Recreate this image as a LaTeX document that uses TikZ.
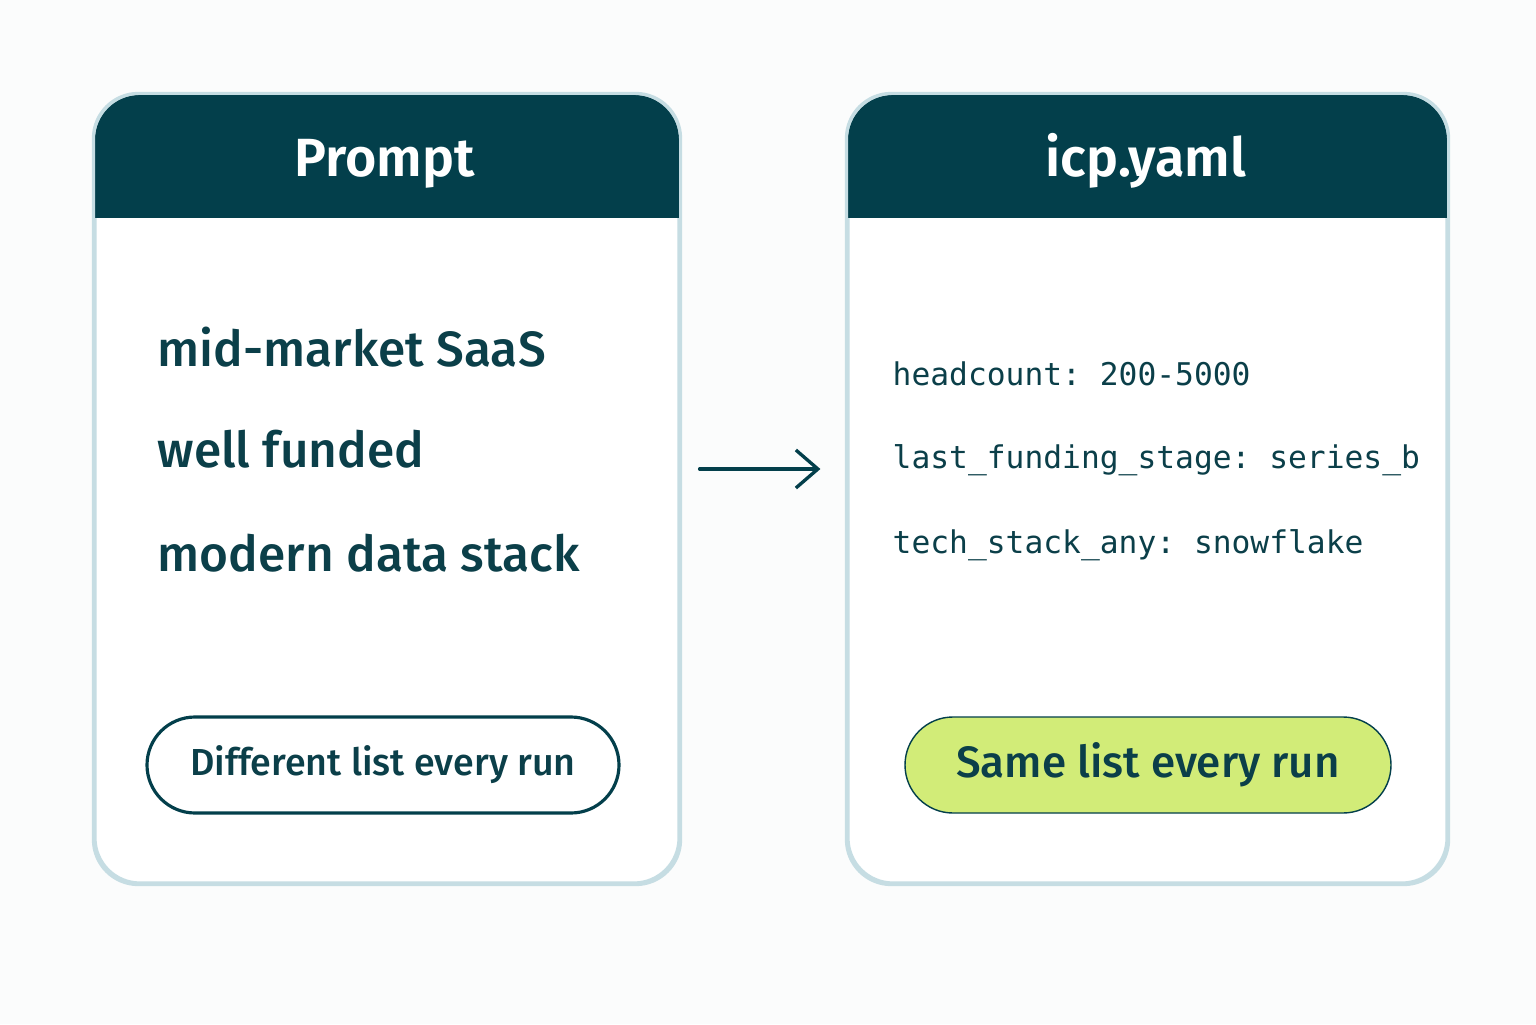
\documentclass[tikz,border=0pt]{standalone}
\usepackage{fontspec}
\setmainfont{Fira Sans}[UprightFont=* Medium, BoldFont=* SemiBold]
\setmonofont{DejaVu Sans Mono}
\usetikzlibrary{arrows.meta}
\definecolor{deepteal}{HTML}{033F4B}
\definecolor{inkteal}{HTML}{0B3F49}
\definecolor{cardline}{HTML}{C6DDE3}
\definecolor{limefill}{HTML}{D2EC78}
\definecolor{pagebg}{HTML}{FBFCFC}

\begin{document}
\begin{tikzpicture}[
  card/.style={draw=cardline, line width=0.9pt, fill=white, rounded corners=0.45cm, minimum height=7.88cm},
  headtext/.style={anchor=base, text=white, font=\fontsize{15.3}{18}\bfseries},
  plain/.style={anchor=base west, text=inkteal, inner sep=0pt, font=\fontsize{14.1}{17}\selectfont},
  yamlline/.style={anchor=base west, text=inkteal, inner sep=0pt, font=\fontsize{8.9}{11}\ttfamily},
  pill/.style={rounded corners=0.48cm, minimum height=0.96cm, text=inkteal},
  flow/.style={-{Straight Barb[length=0.22cm, width=0.38cm]}, line width=0.95pt, draw=deepteal, line cap=round}
]
\fill[pagebg] (0,0) rectangle (15.36,10.24);
\useasboundingbox (0,0) rectangle (15.36,10.24);

\node[card, minimum width=5.84cm] (promptcard) at (3.87,5.35) {};
\node[card, minimum width=5.99cm] (yamlcard) at (11.475,5.35) {};

\fill[deepteal] (0.95,8.06) [rounded corners=0.45cm] -- (0.95,9.29) -- (6.79,9.29) [sharp corners] -- (6.79,8.06) -- cycle;
\fill[deepteal] (8.48,8.06) [rounded corners=0.45cm] -- (8.48,9.29) -- (14.47,9.29) [sharp corners] -- (14.47,8.06) -- cycle;
\draw[cardline, line width=0.9pt, rounded corners=0.45cm] (promptcard.south west) rectangle (promptcard.north east);
\draw[cardline, line width=0.9pt, rounded corners=0.45cm] (yamlcard.south west) rectangle (yamlcard.north east);

\node[headtext] (prompttitle) at (3.85,8.47) {Prompt};
\node[headtext] (yamltitle) at (11.46,8.47) {icp.yaml};

\node[plain] (vague1) at (1.57,6.58) {mid-market SaaS};
\node[plain] (vague2) at (1.57,5.57) {well funded};
\node[plain] (vague3) at (1.57,4.53) {modern data stack};

\node[yamlline] (rule1) at (8.92,6.39) {headcount: 200-5000};
\node[yamlline] (rule2) at (8.92,5.56) {last\_funding\_stage: series\_b};
\node[yamlline] (rule3) at (8.92,4.71) {tech\_stack\_any: snowflake};

\node[pill, draw=deepteal, line width=0.9pt, fill=white, minimum width=4.72cm, font=\fontsize{10.7}{13}\selectfont] (diffrun) at (3.83,2.59) {Different list every run};
\node[pill, draw=deepteal, line width=0.4pt, fill=limefill, minimum width=4.86cm, font=\fontsize{12.5}{15}\selectfont] (samerun) at (11.48,2.59) {Same list every run};

\draw[flow, shorten <=0.19cm, shorten >=0.26cm] ([yshift=0.2cm]promptcard.east) -- ([yshift=0.2cm]yamlcard.west);
\end{tikzpicture}
\end{document}
